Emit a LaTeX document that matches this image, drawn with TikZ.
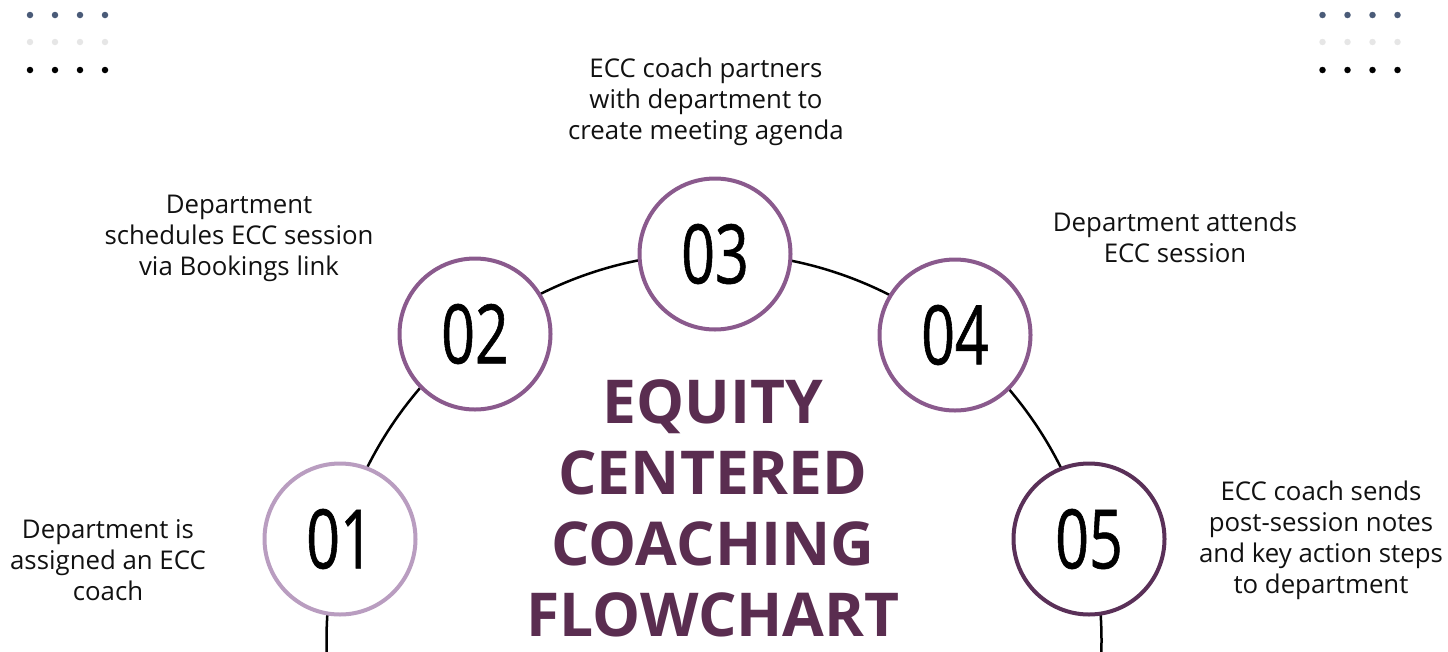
\documentclass[tikz,border=0pt]{standalone}
\usepackage{fontspec}
\setmainfont{Open Sans}
\newfontfamily\numfont[FakeStretch=0.72,FakeBold=0.7]{Open Sans}
\usepackage{xcolor}
\usetikzlibrary{positioning}
\definecolor{slatec}{HTML}{4A5B78}
\definecolor{greyc}{HTML}{E6E6E6}
\definecolor{lilac}{HTML}{B99DC0}
\definecolor{plum}{HTML}{8A5A8D}
\definecolor{darkplum}{HTML}{5A3058}
\definecolor{titlec}{HTML}{5A2D50}
\definecolor{textc}{HTML}{111111}
\tikzset{
  stepcirc/.style={circle,draw=#1,line width=4pt,fill=white,minimum size=151pt,inner sep=0pt,
    font=\numfont\fontsize{82}{82}\selectfont},
  note/.style={align=center,text=textc,font=\fontsize{25.8}{31}\selectfont},
  dot/.style={circle,fill=#1,inner sep=0pt,minimum size=6.5pt}
}
\begin{document}
\begin{tikzpicture}[x=1pt,y=-1pt]
\useasboundingbox (0,0) rectangle (1448,651);
% corner dots
\foreach \r/\c in {15/slatec,42/greyc,70/black}{
  \foreach \i in {0,...,3}{
    \node[dot=\c] at (30+25*\i,\r) {};
    \node[dot=\c] at (1322.5+25*\i,\r) {};
  }
}
% ring behind the steps
\begin{scope}
\clip (0,0) rectangle (1448,651);
\draw[line width=2.5pt] (714,640.5) circle (387.5);
\end{scope}
% steps
\node[stepcirc=lilac] (s1) at (340,539) {01};
\node[stepcirc=plum] (s2) at (475,334) {02};
\node[stepcirc=plum] (s3) at (715,254) {03};
\node[stepcirc=plum] (s4) at (955,335) {04};
\node[stepcirc=darkplum] (s5) at (1089,539) {05};
% texts
\node[note] (t1) at (108,560) {Department is\\assigned an ECC\\coach};
\node[note] (t2) at (239,238) {Department\\schedules ECC session\\via Bookings link};
\node[note] (t3) at (706,101.5) {ECC coach partners\\with department to\\create meeting agenda};
\node[note] (t4) at (1175,237) {Department attends\\ECC session};
\node[note] (t5) at (1321,540) {ECC coach sends\\post-session notes\\and key action steps\\to department};
\node[align=center,text=titlec,font=\bfseries\fontsize{60.5}{71}\selectfont] (title) at (713,508)
  {EQUITY\\CENTERED\\COACHING\\FLOWCHART};
\end{tikzpicture}
\end{document}
